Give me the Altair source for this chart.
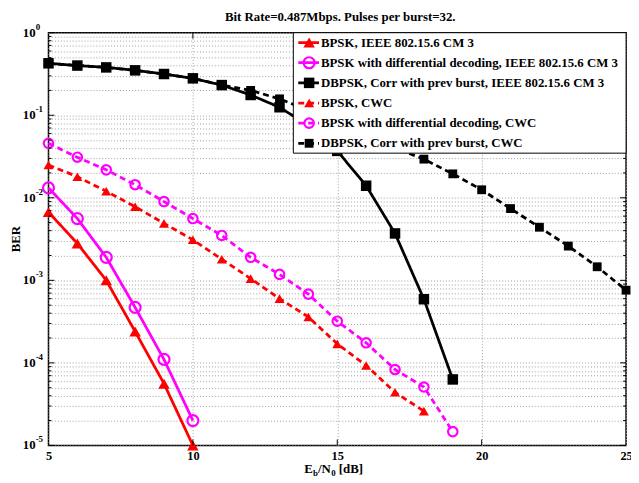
import altair as alt
import pandas as pd

# ---------------- data ----------------
S1 = "BPSK, IEEE 802.15.6 CM 3"
S2 = "BPSK with differential decoding, IEEE 802.15.6 CM 3"
S3 = "DBPSK, Corr with prev burst, IEEE 802.15.6 CM 3"
S4 = "BPSK, CWC"
S5 = "BPSK with differential decoding, CWC"
S6 = "DBPSK, Corr with prev burst, CWC"
SERIES = [S1, S2, S3, S4, S5, S6]
TITLE = "Bit Rate=0.487Mbps. Pulses per burst=32."

ebn0_bpsk_ieee = [5, 6, 7, 8, 9, 10]
ber_bpsk_ieee = [6.7e-3, 2.8e-3, 1.0e-3, 2.4e-4, 5.6e-5, 1.0e-5]

ebn0_bpsk_diff_ieee = [5, 6, 7, 8, 9, 10]
ber_bpsk_diff_ieee = [1.32e-2, 5.6e-3, 1.9e-3, 4.7e-4, 1.1e-4, 2.0e-5]

ebn0_dbpsk_ieee = [5, 6, 7, 8, 9, 10, 11, 12, 13, 14, 15, 16, 17, 18, 19]
ber_dbpsk_ieee = [0.426, 0.40, 0.38, 0.35, 0.316, 0.28, 0.232, 0.176, 0.125,
                  0.075, 0.037, 0.014, 3.7e-3, 5.9e-4, 6.3e-5]

ebn0_bpsk_cwc = [5, 6, 7, 8, 9, 10, 11, 12, 13, 14, 15, 16, 17, 18]
ber_bpsk_cwc = [0.025, 0.018, 0.012, 7.8e-3, 4.9e-3, 3.1e-3, 1.8e-3, 1.05e-3,
                6.0e-4, 3.6e-4, 1.7e-4, 9.3e-5, 4.4e-5, 2.6e-5]

ebn0_bpsk_diff_cwc = [5, 6, 7, 8, 9, 10, 11, 12, 13, 14, 15, 16, 17, 18, 19]
ber_bpsk_diff_cwc = [0.0457, 0.031, 0.0218, 0.0144, 9.0e-3, 5.6e-3, 3.5e-3, 1.9e-3,
                     1.18e-3, 6.8e-4, 3.2e-4, 1.75e-4, 8.3e-5, 5.1e-5, 1.47e-5]

ebn0_dbpsk_cwc = [5, 6, 7, 8, 9, 10, 11, 12, 13, 14, 15, 16, 17, 18, 19, 20, 21, 22, 23, 24, 25]
ber_dbpsk_cwc = [0.426, 0.40, 0.38, 0.35, 0.316, 0.28, 0.232, 0.20, 0.158, 0.115,
                 0.08, 0.055, 0.04, 0.0294, 0.0195, 0.0125, 7.4e-3, 4.4e-3,
                 2.6e-3, 1.46e-3, 7.6e-4]

x_ticks = [5, 10, 15, 20, 25]
y_exponents = [0, -1, -2, -3, -4, -5]
y_exp_labels = ["0", "-1", "-2", "-3", "-4", "-5"]

COLORS = ["#ff0000", "#ff00ff", "#000000", "#ff0000", "#ff00ff", "#000000"]
SHAPES = ["triangle-up", "circle", "square", "triangle-up", "circle", "square"]
DASHES = [[1, 0], [1, 0], [1, 0], [6, 4], [6, 4], [6, 4]]
SIZES = [135, 80, 70, 135, 80, 70]

rows = []
for name, xs, ys in zip(
    SERIES,
    [ebn0_bpsk_ieee, ebn0_bpsk_diff_ieee, ebn0_dbpsk_ieee, ebn0_bpsk_cwc, ebn0_bpsk_diff_cwc, ebn0_dbpsk_cwc],
    [ber_bpsk_ieee, ber_bpsk_diff_ieee, ber_dbpsk_ieee, ber_bpsk_cwc, ber_bpsk_diff_cwc, ber_dbpsk_cwc],
):
    for x, y in zip(xs, ys):
        rows.append({"series": name, "ebn0": x, "ber": y})
df = pd.DataFrame(rows)

major_vals = [10.0 ** e for e in y_exponents]
minor_vals = [m * 10.0 ** e for e in range(-5, 0) for m in range(2, 10)]
grid_vals = sorted(major_vals + minor_vals)

# ---------------- styling ----------------
W, H = 585, 418
FONT = "Liberation Serif"
GRID = "#a0a0a0"
LW = 2.8

color_scale = alt.Scale(domain=SERIES, range=COLORS)
shape_scale = alt.Scale(domain=SERIES, range=SHAPES)
dash_scale = alt.Scale(domain=SERIES, range=DASHES)
size_scale = alt.Scale(domain=SERIES, range=SIZES)

xsc = alt.Scale(domain=[5, 25], nice=False, zero=False)
ysc = alt.Scale(type="log", domain=[1e-5, 1], nice=False)

X_AXIS = alt.Axis(values=x_ticks, grid=True, gridColor=GRID, gridDash=[1, 2],
                  ticks=False, domain=False, labelFont=FONT, labelFontSize=12.5,
                  labelFontWeight="bold", labelColor="black", labelPadding=4,
                  labelFlush=False, title=None)
Y_AXIS = alt.Axis(values=grid_vals, grid=True, gridColor=GRID, gridDash=[1, 2],
                  labels=False, ticks=False, domain=False, title=None)


def X(f):
    return alt.X(f, scale=xsc, axis=X_AXIS, title=None)


def Y(f):
    return alt.Y(f, scale=ysc, axis=Y_AXIS, title=None)


color_enc = alt.Color("series:N", scale=color_scale, legend=None)
dash_enc = alt.StrokeDash("series:N", scale=dash_scale, legend=None)
shape_enc = alt.Shape("series:N", scale=shape_scale, legend=None)
size_enc = alt.Size("series:N", scale=size_scale, legend=None)

base = alt.Chart(df)
lines = base.mark_line(strokeWidth=LW).encode(
    x=X("ebn0:Q"), y=Y("ber:Q"), color=color_enc, strokeDash=dash_enc, detail="series:N"
)
pts_filled = base.transform_filter(
    alt.FieldOneOfPredicate(field="series", oneOf=[S1, S3, S4, S6])
).mark_point(filled=True, opacity=1).encode(
    x=X("ebn0:Q"), y=Y("ber:Q"), color=color_enc, shape=shape_enc, size=size_enc
)
pts_open = base.transform_filter(
    alt.FieldOneOfPredicate(field="series", oneOf=[S2, S5])
).mark_point(filled=False, opacity=1, strokeWidth=2.2).encode(
    x=X("ebn0:Q"), y=Y("ber:Q"), color=color_enc, shape=shape_enc, size=size_enc
)

# inward ticks
maj_df = pd.DataFrame({"v": major_vals})
min_df = pd.DataFrame({"v": minor_vals})
xt_df = pd.DataFrame({"v": x_ticks[1:-1]})
tick_layers = [
    alt.Chart(maj_df).mark_rule(color="black").encode(y=Y("v:Q"), x=alt.value(0), x2=alt.value(6)),
    alt.Chart(maj_df).mark_rule(color="black").encode(y=Y("v:Q"), x=alt.value(W - 6), x2=alt.value(W)),
    alt.Chart(min_df).mark_rule(color="black").encode(y=Y("v:Q"), x=alt.value(0), x2=alt.value(3)),
    alt.Chart(min_df).mark_rule(color="black").encode(y=Y("v:Q"), x=alt.value(W - 3), x2=alt.value(W)),
    alt.Chart(xt_df).mark_rule(color="black").encode(x=X("v:Q"), y=alt.value(H - 6), y2=alt.value(H)),
    alt.Chart(xt_df).mark_rule(color="black").encode(x=X("v:Q"), y=alt.value(0), y2=alt.value(6)),
]

# y tick labels 10^k
ylab_df = pd.DataFrame({"v": major_vals, "exp": y_exp_labels})
ylab_base = alt.Chart(ylab_df).mark_text(
    align="right", baseline="middle", font=FONT, fontSize=13, fontWeight="bold", color="black"
).encode(y=Y("v:Q"), x=alt.value(-13), text=alt.value("10"))
ylab_exp = alt.Chart(ylab_df).mark_text(
    align="left", baseline="middle", font=FONT, fontSize=9, fontWeight="bold", color="black", dy=-6
).encode(y=Y("v:Q"), x=alt.value(-13), text="exp:N")

# titles
one = pd.DataFrame({"k": [0]})


def txt(t, x, y, size=13, **kw):
    return alt.Chart(one).mark_text(font=FONT, fontSize=size, fontWeight="bold",
                                    color="black", **kw).encode(
        x=alt.value(x), y=alt.value(y), text=alt.value(t))


title_txt = txt(TITLE, W / 2 + 3, -12, align="center", baseline="alphabetic")
ber_title = txt("BER", -33, H / 2, angle=270, align="center", baseline="middle")
xt_y = 446
x_title = [
    txt("E", 259, xt_y, align="left", baseline="alphabetic"),
    txt("b", 268, xt_y + 3, size=9, align="left", baseline="alphabetic"),
    txt("/N", 273, xt_y, align="left", baseline="alphabetic"),
    txt("0", 286.5, xt_y + 3, size=9, align="left", baseline="alphabetic"),
    txt("[dB]", 294, xt_y, align="left", baseline="alphabetic"),
]

main = alt.layer(lines, pts_filled, pts_open, *tick_layers, ylab_base, ylab_exp,
                 title_txt, ber_title, *x_title)

# ---------------- legend (drawn by hand) ----------------
leg_df = pd.DataFrame({"series": SERIES, "row": list(range(len(SERIES)))})
leg_y = alt.Y("row:Q", scale=alt.Scale(domain=[0, 5], range=[10, 112]), axis=None)
leg_box = alt.Chart(one).mark_rect(fill="white", stroke="black", strokeWidth=1).encode(
    x=alt.value(248), x2=alt.value(W), y=alt.value(0), y2=alt.value(122))
leg_lines = alt.Chart(leg_df).mark_rule(strokeWidth=LW).encode(
    x=alt.value(253), x2=alt.value(274), y=leg_y, color=color_enc, strokeDash=dash_enc)
leg_pf = alt.Chart(leg_df).transform_filter(
    alt.FieldOneOfPredicate(field="series", oneOf=[S1, S3, S4, S6])
).mark_point(filled=True, opacity=1).encode(
    x=alt.value(264), y=leg_y, color=color_enc, shape=shape_enc, size=size_enc)
leg_po = alt.Chart(leg_df).transform_filter(
    alt.FieldOneOfPredicate(field="series", oneOf=[S2, S5])
).mark_point(filled=False, opacity=1, strokeWidth=2.2).encode(
    x=alt.value(264), y=leg_y, color=color_enc, shape=shape_enc, size=size_enc)
leg_txt = alt.Chart(leg_df).mark_text(
    align="left", baseline="middle", font=FONT, fontSize=13, fontWeight="bold", color="black"
).encode(x=alt.value(276), y=leg_y, text="series:N")
legend = alt.layer(leg_box, leg_lines, leg_pf, leg_po, leg_txt)

chart = alt.layer(main, legend).resolve_scale(y="independent").properties(
    width=W,
    height=H,
    autosize=alt.AutoSizeParams(type="none"),
    padding={"left": 41, "top": 22, "right": 5, "bottom": 32},
).configure_view(stroke="black", strokeWidth=1.5)

chart.save("out.html", embed_options={"renderer": "svg", "actions": False})
